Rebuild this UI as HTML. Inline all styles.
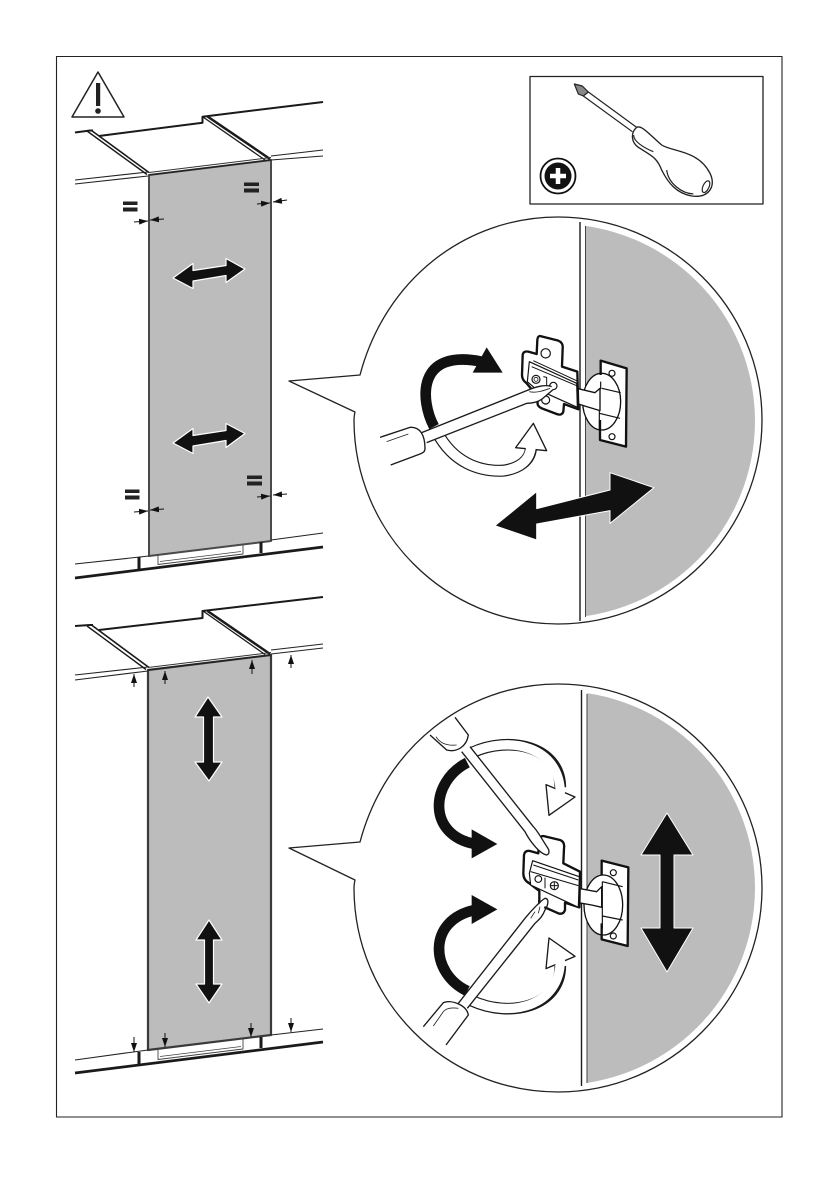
<!DOCTYPE html>
<html><head><meta charset="utf-8"><style>html,body{margin:0;padding:0;background:#fff}svg{display:block}</style></head>
<body>
<svg xmlns="http://www.w3.org/2000/svg" width="839" height="1191" viewBox="0 0 839 1191" fill="none" stroke-linejoin="round">
<defs>
<clipPath id="c1"><path d="M585.5,200H780V640H585.5Z"/></clipPath>
<clipPath id="c2"><path d="M587,670H780V1110H587Z"/></clipPath>
<marker id="m" viewBox="0 0 10 10" refX="10" refY="5" markerWidth="9" markerHeight="6" markerUnits="userSpaceOnUse" orient="auto-start-reverse" preserveAspectRatio="none"><path d="M0,0L10,5L0,10Z" fill="#111"/></marker>
</defs>
<rect x="56.500" y="56.500" width="725.500" height="1060.500" stroke="#222" stroke-width="1.100"/>
<!-- warning -->
<path d="M98,72L124,117H72Z" stroke="#222" stroke-width="1.500"/>
<rect x="96" y="83" width="4.200" height="23" fill="#222"/><circle cx="98" cy="111" r="2.800" fill="#222"/>

<!-- TOP PANEL -->
<g>
<path d="M149,175L271,160V541L149,556Z" fill="#bcbcbc" stroke="#4a4a4a" stroke-width="2"/>
<path d="M75,132.500L90,130.500L93,130.500M99,136L202.500,122.700V116.700L323,102" stroke="#1a1a1a" stroke-width="2"/>
<path d="M87,131L147,174.500" stroke="#1a1a1a" stroke-width="1.400"/><path d="M91.500,130.500L149,172.500" stroke="#1a1a1a" stroke-width="1.600"/>
<path d="M203,117L265,160" stroke="#1a1a1a" stroke-width="1.300"/><path d="M207.500,116.500L270,159" stroke="#1a1a1a" stroke-width="2.500"/>
<path d="M75,180L148,172M75,184L148,176" stroke="#222" stroke-width="1.100"/>
<path d="M271,156L323,150M271,160L323,156" stroke="#222" stroke-width="1.100"/>
<path d="M149,175L271,160" stroke="#222" stroke-width="1.300"/><path d="M149,172.500L271,157.500" stroke="#333" stroke-width="1"/>
<path d="M75,564L149,556M271,540L323,533" stroke="#222" stroke-width="1.100"/>
<path d="M75,578L323,547" stroke="#1a1a1a" stroke-width="2.800"/>
<path d="M139,557V569M261,542V553" stroke="#1a1a1a" stroke-width="3"/>
<path d="M158,555V564.500L243,554V545" stroke="#444" stroke-width=".9"/><path d="M160,561.500L241,551.500" stroke="#444" stroke-width=".8"/>
</g>
<g stroke="#111" stroke-width="1">
<path d="M134,222L148,221" marker-end="url(#m)"/><path d="M164,219L150,220" marker-end="url(#m)"/>
<path d="M257,204L270,203" marker-end="url(#m)"/><path d="M287,200L273,202" marker-end="url(#m)"/>
<path d="M134,512L148,511" marker-end="url(#m)"/><path d="M164,509L150,510" marker-end="url(#m)"/>
<path d="M257,497L270,496" marker-end="url(#m)"/><path d="M287,494L273,495" marker-end="url(#m)"/>
</g>
<g fill="#222">
<rect x="123" y="201.500" width="14.500" height="3.500"/><rect x="123" y="207.500" width="14.500" height="4"/>
<rect x="244" y="182.500" width="15" height="3.500"/><rect x="244" y="188.500" width="15" height="4"/>
<rect x="125" y="489.500" width="14.500" height="3.500"/><rect x="125" y="495.500" width="14.500" height="4"/>
<rect x="247" y="475.500" width="15" height="3.500"/><rect x="247" y="481.500" width="15" height="4"/>
</g>
<g fill="#111" stroke="#fff" stroke-width="1.200">
<path d="M173,278L193,263.500V270.500L226,265.500V258.500L245,269L226,282.500V275.500L193,281V288.500Z"/>
<path d="M173,443L193,428.500V435.500L226,430.500V423.500L245,433.500L226,447.500V440.500L193,446V453.500Z"/>
</g>

<!-- BOTTOM PANEL -->
<g>
<path d="M148,670L271,655V1035L148,1050Z" fill="#bcbcbc" stroke="#3a3a3a" stroke-width="2.200"/>
<path d="M75,626L90,625L93,625M99,630L202.500,618V611L323,597" stroke="#1a1a1a" stroke-width="2"/>
<path d="M87,626L146,669.500" stroke="#1a1a1a" stroke-width="1.400"/><path d="M91.500,625L149,667.500" stroke="#1a1a1a" stroke-width="1.600"/>
<path d="M203,611L265,654.500" stroke="#1a1a1a" stroke-width="1.300"/><path d="M207.500,611L270,654" stroke="#1a1a1a" stroke-width="2.500"/>
<path d="M75,675L148,667M75,680L148,671" stroke="#222" stroke-width="1.100"/>
<path d="M271,650L323,644M271,654L323,648" stroke="#222" stroke-width="1.100"/>
<path d="M148,670L271,655" stroke="#222" stroke-width="1.300"/><path d="M148,667.500L271,652.500" stroke="#333" stroke-width="1"/>
<path d="M75,1060L148,1050M271,1035L323,1029" stroke="#222" stroke-width="1.100"/>
<path d="M75,1073L323,1042" stroke="#1a1a1a" stroke-width="2.800"/>
<path d="M139,1052V1065M261,1037V1048" stroke="#1a1a1a" stroke-width="3"/>
<path d="M158,1050V1059.500L243,1049V1039" stroke="#444" stroke-width=".9"/><path d="M160,1056.500L241,1046.500" stroke="#444" stroke-width=".8"/>
</g>
<g stroke="#111" stroke-width="1">
<path d="M134,687V674" marker-end="url(#m)"/><path d="M165,684V671" marker-end="url(#m)"/>
<path d="M252,674V660" marker-end="url(#m)"/><path d="M291,668V655" marker-end="url(#m)"/>
<path d="M134,1037V1052" marker-end="url(#m)"/><path d="M165,1033V1047" marker-end="url(#m)"/>
<path d="M251,1023V1037" marker-end="url(#m)"/><path d="M291,1018V1032" marker-end="url(#m)"/>
</g>
<g fill="#111" stroke="#fff" stroke-width="1.200">
<path d="M208,697L222,717H213.500V762H222L209,781L195,762H203.500V717H195Z"/>
<path d="M209,920L222,940H213.500V984H222L209,1003L196,984H204.500V940H196Z"/>
</g>

<!-- Screwdriver box -->
<rect x="530" y="76.500" width="233" height="127.500" stroke="#222" stroke-width="1.300"/>
<g transform="translate(525,70) scale(.33333)" stroke="#222" stroke-width="3.500">
<path d="M175,78L322,185M190,66L335,172"/>
<path d="M148,42L172,48L190,66L175,78L160,72Z" fill="#888"/>
<path d="M335,172C350,165 370,190 410,225C440,245 520,240 555,310C575,350 550,385 500,378C455,370 430,340 410,300C395,260 375,255 340,232C320,218 315,190 335,172Z" fill="#fff" stroke-width="4"/>
<path d="M326,195C325,215 360,235 385,245M425,300C430,340 470,370 505,372"/>
<ellipse cx="543" cy="350" rx="9" ry="19" transform="rotate(25 543 350)"/>
</g>
<circle cx="558" cy="176" r="17.500" stroke="#111" stroke-width="1.800"/>
<circle cx="558" cy="176" r="13.500" fill="#111"/>
<path d="M558,168V184M550,176H566" stroke="#fff" stroke-width="4.500"/>

<!-- CIRCLE 1 -->
<path d="M360,375C385,280 465,217 558,217C670,217 762,308 762,420C762,532 670,624 558,624C445,624 354,532 354,420C354,417 354.500,414 355,412L289,381Z" stroke="#222" stroke-width="1.300" fill="#fff"/>
<circle cx="558" cy="421" r="197" fill="#bcbcbc" clip-path="url(#c1)"/>
<path d="M580,222V621" stroke="#1a1a1a" stroke-width="1.400"/>
<path d="M585.500,226V617" stroke="#444" stroke-width="1"/>
<g transform="translate(370,320) scale(.33333)">
<!-- outline arrow -->
<path d="M200,335C250,430 330,455 400,452C450,445 480,420 483,385" stroke="#1a1a1a" stroke-width="36"/>
<path d="M490,310L530,392L437,383Z" fill="#fff" stroke="#1a1a1a" stroke-width="4"/>
<path d="M200,335C250,430 330,455 400,452C450,445 480,420 483,380" stroke="#fff" stroke-width="29"/>
<!-- black arrow -->
<path d="M192,320C150,240 140,85 335,125" stroke="#111" stroke-width="32"/>
<path d="M350,82L398,158H308Z" fill="#111"/>
<!-- hinge -->
<path d="M692,122L770,145L768,380L690,360Z" fill="#fff"/>
<ellipse cx="695" cy="245" rx="57" ry="85" fill="#fff" stroke="#111" stroke-width="4"/>
<path d="M692,165V122L770,145L768,380L690,360V300" stroke="#111" stroke-width="7"/>
<path d="M695,205L752,218M688,280L750,295M692,185V205L686,215M688,270V330" stroke="#111" stroke-width="3.500"/>
<circle cx="726" cy="160" r="9" fill="#fff" stroke="#111" stroke-width="3.500"/><circle cx="726" cy="350" r="9" fill="#fff" stroke="#111" stroke-width="3.500"/>
<path d="M620,205L675,218L690,205V272L650,260L620,250Z" fill="#fff" stroke="#111" stroke-width="4"/>
<path d="M510,48L565,62Q580,68 578,85L576,140L622,155L625,268L582,252L580,275Q575,288 560,282L515,265Q500,258 503,245L505,232L470,190Q456,180 456,165L458,105Q460,92 475,95L500,102L502,60Q503,48 510,48Z" fill="#fff" stroke="#111" stroke-width="7"/>
<path d="M478,125L620,190L622,262L495,205L472,185Z" fill="#fff" stroke="#111" stroke-width="3.500"/>
<path d="M490,122L620,182M485,140L620,197" stroke="#111" stroke-width="3"/>
<circle cx="527" cy="100" r="14" stroke="#111" stroke-width="3.500"/>
<circle cx="498" cy="178" r="12" stroke="#111" stroke-width="3.500"/><circle cx="498" cy="178" r="6" stroke="#111" stroke-width="2.500"/>
<path d="M520,170L530,172V205" stroke="#111" stroke-width="3"/>
<circle cx="550" cy="198" r="11" stroke="#111" stroke-width="3.500"/>
<circle cx="527" cy="240" r="12" stroke="#111" stroke-width="3.500"/>
<!-- screwdriver -->
<path d="M155,338L470,212C500,198 530,193 545,200L548,210L515,238L490,250L470,250L170,368Z" fill="#fff"/>
<path d="M155,338L470,212C500,198 530,193 545,200M548,210L515,238C500,248 485,250 470,250L170,368" stroke="#1a1a1a" stroke-width="4"/>
<path d="M478,215C500,220 520,212 540,205" stroke="#222" stroke-width="2.500"/>
<path d="M30,352L120,322C150,320 165,345 165,385C165,395 160,398 150,402L62,435" fill="#fff" stroke="#1a1a1a" stroke-width="4"/>
<path d="M50,365L115,342" stroke="#222" stroke-width="2.500"/>
<!-- big arrow -->
<path d="M375,617L500,515V566L720,510V458L852,503L720,610V572L500,612V660Z" fill="#111" stroke="#fff" stroke-width="3"/>
</g>

<!-- CIRCLE 2 -->
<path d="M360,842C385,748 465,684 558,684C670,684 762,776 762,888C762,1000 670,1092 558,1092C445,1092 354,1000 354,888C354,885 354.500,882 355,880L289,848Z" stroke="#222" stroke-width="1.300" fill="#fff"/>
<circle cx="558" cy="888" r="197" fill="#bcbcbc" clip-path="url(#c2)"/>
<path d="M581.500,690V1086" stroke="#1a1a1a" stroke-width="1.400"/>
<path d="M587,694V1083" stroke="#444" stroke-width="1"/>
<g transform="translate(410,710) scale(.33333)">
<!-- outline arrows -->
<path d="M185,128C300,75 450,110 451,232" stroke="#1a1a1a" stroke-width="35"/>
<path d="M408,224L495,261L417,316Z" fill="#fff" stroke="#1a1a1a" stroke-width="4"/>
<path d="M185,128C300,75 450,110 451,250" stroke="#fff" stroke-width="28"/>
<path d="M185,872C300,925 450,890 451,768" stroke="#1a1a1a" stroke-width="35"/>
<path d="M408,776L495,739L417,684Z" fill="#fff" stroke="#1a1a1a" stroke-width="4"/>
<path d="M185,872C300,925 450,890 451,750" stroke="#fff" stroke-width="28"/>
<!-- black arrows -->
<path d="M172,158C60,215 50,375 195,402" stroke="#111" stroke-width="32"/>
<path d="M185,358L262,402L185,445Z" fill="#111"/>
<path d="M172,843C60,790 50,630 195,600" stroke="#111" stroke-width="32"/>
<path d="M185,555L262,598L185,642Z" fill="#111"/>
<!-- hinge -->
<path d="M575,452L655,472L653,708L575,688Z" fill="#fff"/>
<ellipse cx="580" cy="585" rx="58" ry="90" fill="#fff" stroke="#111" stroke-width="4"/>
<path d="M575,495V452L655,472L653,708L575,688V640" stroke="#111" stroke-width="7"/>
<path d="M577,515L638,530M577,618L638,630M577,515V655" stroke="#111" stroke-width="3.500"/>
<circle cx="610" cy="488" r="9" fill="#fff" stroke="#111" stroke-width="3.500"/><circle cx="610" cy="678" r="9" fill="#fff" stroke="#111" stroke-width="3.500"/>
<path d="M505,535L560,545L575,530V592L545,585L505,578Z" fill="#fff" stroke="#111" stroke-width="4"/>
<path d="M400,378L450,390Q465,395 462,415L460,460L510,485L508,592L465,578L465,600Q460,615 445,610L400,590Q385,583 388,570L388,543L358,520Q340,510 340,490L342,435Q345,420 360,423L385,430L387,395Q388,378 400,378Z" fill="#fff" stroke="#111" stroke-width="7"/>
<path d="M368,452L508,500L505,592L362,525L358,490Z" fill="#fff" stroke="#111" stroke-width="3.500"/>
<path d="M370,465L505,510M362,485L505,527" stroke="#111" stroke-width="3"/>
<circle cx="385" cy="507" r="10" stroke="#111" stroke-width="3.500"/><path d="M405,503V535" stroke="#111" stroke-width="3"/>
<circle cx="433" cy="527" r="12" stroke="#111" stroke-width="3.500"/><path d="M433,517V537M423,527H443" stroke="#111" stroke-width="3"/>
<!-- top driver -->
<path d="M155,125L345,365C355,385 385,430 410,435C420,432 418,420 412,412L370,350L180,110" fill="#fff"/>
<path d="M155,125L345,365C355,385 385,430 410,435C420,432 418,420 412,412C400,395 385,365 370,350L180,110" stroke="#1a1a1a" stroke-width="4"/>
<path d="M60,75L110,120C140,128 170,110 175,75L135,22" fill="#fff" stroke="#1a1a1a" stroke-width="4"/>
<path d="M78,80C90,100 110,108 140,105" stroke="#222" stroke-width="2.500"/>
<!-- bottom driver -->
<path d="M145,880L345,625L405,565L415,570L375,640L172,895" fill="#fff"/>
<path d="M145,880L345,625C365,600 395,570 405,565C418,565 415,585 405,600C395,625 385,630 375,640L172,895" stroke="#1a1a1a" stroke-width="4"/>
<path d="M375,605L362,625M390,590L385,610" stroke="#222" stroke-width="2.500"/>
<path d="M40,950L100,878C125,868 170,885 175,915L108,1005" fill="#fff" stroke="#1a1a1a" stroke-width="4"/>
<path d="M70,948L100,905C108,895 125,892 145,895" stroke="#222" stroke-width="2.500"/>
</g>
<path d="M667,813L693,855H674V928H693L667,972L641,928H660V855H641Z" fill="#111" stroke="#fff" stroke-width="1"/>
</svg>
</body></html>
